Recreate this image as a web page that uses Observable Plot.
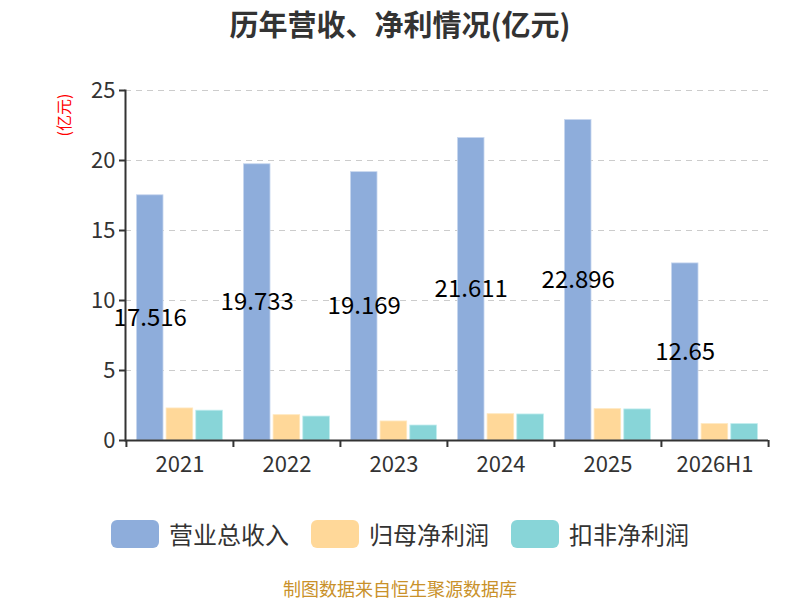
<!DOCTYPE html>
<html><head><meta charset="utf-8">
<script src="https://cdn.jsdelivr.net/npm/d3@7"></script>
<script src="https://cdn.jsdelivr.net/npm/@observablehq/plot@0.6"></script>
<style>
body{margin:0;background:#fff;font-family:"Noto Sans CJK SC","Noto Sans",sans-serif;}
#wrap{position:relative;width:800px;height:600px;overflow:hidden;}
#title{position:absolute;left:0;top:3px;width:800px;text-align:center;font-size:29px;font-weight:bold;color:#333;line-height:40px;}
#chart{position:absolute;left:0;top:50px;}
#ylab{position:absolute;left:63px;top:115px;transform:translate(-50%,-50%) rotate(-90deg);color:red;font-size:16px;white-space:nowrap;z-index:5;}
#legend{position:absolute;top:516px;left:0;width:800px;display:flex;justify-content:center;}
.item{display:flex;align-items:center;margin:0 11px;font-size:24px;color:#333;}
.sw{width:48px;height:28px;border-radius:6px;margin-right:10px;}
#cap{position:absolute;top:578px;left:0;width:800px;text-align:center;font-size:18px;line-height:20px;color:#c9912a;}
</style></head>
<body><div id="wrap">
<div id="title">历年营收、净利情况(亿元)</div>
<div id="chart"></div>
<div id="ylab">(亿元)</div>
<div id="legend"></div>
<div id="cap">制图数据来自恒生聚源数据库</div>
</div>
<script>
const years = ["2021","2022","2023","2024","2025","2026H1"];
const revenue = [17.516, 19.733, 19.169, 21.611, 22.896, 12.65];
const netProfit = [2.29, 1.81, 1.36, 1.88, 2.24, 1.17];
const deductedProfit = [2.13, 1.71, 1.07, 1.86, 2.22, 1.17];
const seriesNames = ["营业总收入","归母净利润","扣非净利润"];
const colors = ["#8eaddb","#ffd899","#88d5d8"];
const yTicks = [0,5,10,15,20,25];

const rows = years.map((y,i)=>({year:y, rev:revenue[i], np:netProfit[i], dp:deductedProfit[i]}));

const W = 800, H = 440, mL = 125, mR = 32;
const band = (W - mL - mR) / years.length;
const outer = band * 0.097, bw = band * 0.25, gap = band * 0.027;
function insets(k){ const l = outer + k*(bw+gap); return {insetLeft:l, insetRight: band - l - bw}; }

const fontFam = "'Noto Sans CJK SC','Noto Sans',sans-serif";
const plot = Plot.plot({
  width: W, height: H,
  marginLeft: mL, marginRight: mR, marginTop: 40, marginBottom: 50,
  style: {fontFamily: fontFam, background: "#fff"},
  x: {domain: years, padding: 0, axis: null},
  y: {domain: [0,25], axis: null},
  marks: [
    Plot.gridY(yTicks.filter(t=>t>0), {stroke:"#ccc", strokeOpacity:1, strokeDasharray:"6,5", strokeWidth:1}),
    Plot.barY(rows, {x:"year", y:"rev", fill:colors[0], stroke:"#c9d8ef", strokeWidth:0.8, ...insets(0)}),
    Plot.barY(rows, {x:"year", y:"np", fill:colors[1], stroke:"#ffe8c0", strokeWidth:0.8, ...insets(1)}),
    Plot.barY(rows, {x:"year", y:"dp", fill:colors[2], stroke:"#c0ecee", strokeWidth:0.8, ...insets(2)}),
    Plot.text(rows, {x:"year", y:d=>d.rev/2, text:d=>String(d.rev), dx: -band/2 + outer + bw/2, fontSize:24, fill:"#000"}),
    Plot.ruleY([0], {stroke:"#333", strokeWidth:2}),
    Plot.frame({anchor:"left", stroke:"#333", strokeWidth:2}),
    Plot.axisY(yTicks, {tickSize:6, tickPadding:4, fontSize:22, stroke:"#333", fill:"#333", strokeWidth:2, label:null, tickFormat:d=>String(d)}),
    Plot.axisX(years, {tickSize:7, dx:-band/2, tickFormat:()=>"", stroke:"#333", strokeWidth:2, label:null}),
    Plot.axisX([years[years.length-1]], {tickSize:7, dx:band/2, tickFormat:()=>"", stroke:"#333", strokeWidth:2, label:null}),
    Plot.axisX(years, {tickSize:0, tickPadding:16, fontSize:22, fill:"#333", label:null})
  ]
});
document.getElementById("chart").appendChild(plot);

const lg = document.getElementById("legend");
seriesNames.forEach((n,i)=>{
  const it = document.createElement("div"); it.className="item";
  it.innerHTML = `<div class="sw" style="background:${colors[i]}"></div><span>${n}</span>`;
  lg.appendChild(it);
});
</script>
</body></html>
